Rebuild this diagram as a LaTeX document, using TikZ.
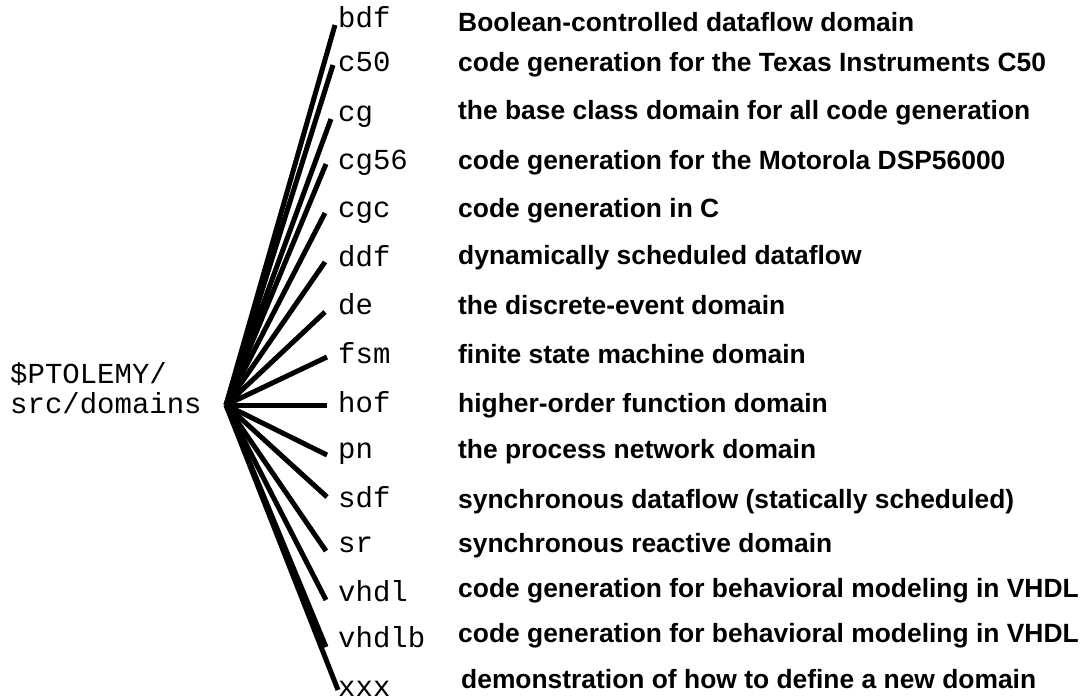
\documentclass[tikz,border=0pt]{standalone}
\usepackage{fontspec}
\newfontfamily\dirfont{Liberation Mono}
\newfontfamily\descfont{Liberation Sans}
\usetikzlibrary{positioning}

\begin{document}
\begin{tikzpicture}[x=1pt, y=-1pt,
  dirname/.style={font=\dirfont\fontsize{29}{30}\selectfont, inner sep=0pt, anchor=base west},
  descr/.style={font=\descfont\bfseries\fontsize{26.4}{28}\selectfont, inner sep=0pt, anchor=base west},
  branch/.style={line width=5pt}]
\useasboundingbox (0,0) rectangle (1089,700);

% root directory and the point where all branches meet
\node[dirname, align=left] (root) at (10,413) {\$PTOLEMY/\\src/domains};
\coordinate (hub) at (226,405);

% one branch per domain: name, baseline, end of branch, baseline and start of description
\foreach \name/\y/\ex/\ey/\dx/\dy/\descr in
{bdf/28/335/25/458/32/Boolean-controlled dataflow domain,
 c50/72/333/65/458/72/code generation for the Texas Instruments C50,
 cg/122/331/119/458/120/the base class domain for all code generation,
 cg56/170/326/164/458/170/code generation for the Motorola DSP56000,
 cgc/218/325/213/458/218/code generation in C,
 ddf/267/325/262/458/265/dynamically scheduled dataflow,
 de/315/325/312/458/315/the discrete-event domain,
 fsm/363/327/357/458/363/finite state machine domain,
 hof/412/327/405/458/412/higher-order function domain,
 pn/458/327/455/458/458/the process network domain,
 sdf/507/327/497/458/508/synchronous dataflow (statically scheduled),
 sr/552/326/551/458/552/synchronous reactive domain,
 vhdl/601/326/600/458/597/code generation for behavioral modeling in VHDL,
 vhdlb/647/326/647/458/642/code generation for behavioral modeling in VHDL,
 xxx/696/338/690/461/688/demonstration of how to define a new domain}
{
  \node[dirname] (\name) at (338,\y) {\name};
  \node[descr] (\name-descr) at (\dx,\dy) {\descr};
  \coordinate (\name-end) at (\ex,\ey);
  \draw[branch] (hub) -- (\name-end);
}
\end{tikzpicture}
\end{document}
